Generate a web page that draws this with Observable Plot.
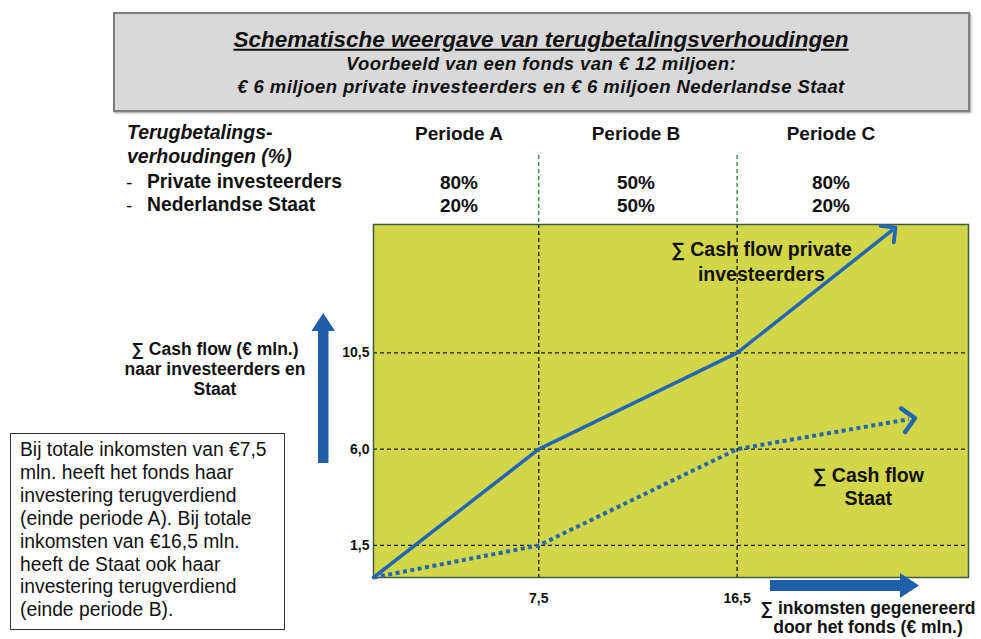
<!DOCTYPE html>
<html><head><meta charset="utf-8">
<script src="https://cdn.jsdelivr.net/npm/d3@7"></script>
<script src="https://cdn.jsdelivr.net/npm/@observablehq/plot@0.6"></script>
<style>
body{margin:0;background:#fff;font-family:"Liberation Sans",Arial,sans-serif;color:#111;}
#page{position:relative;width:981px;height:639px;overflow:hidden;}
#chart{position:absolute;left:0;top:0;}
.t{position:absolute;white-space:nowrap;line-height:1;}
.c{transform:translate(-50%,-50%);}
.l{transform:translate(0,-50%);}
</style>
</head><body>
<div id="page"></div>
<script>
// ---- data ----
const title = "Schematische weergave van terugbetalingsverhoudingen";
const subtitle = ["Voorbeeld van een fonds van € 12 miljoen:", "€ 6 miljoen private investeerders en € 6 miljoen Nederlandse Staat"];
const periods = ["Periode A", "Periode B", "Periode C"];
const sharePrivate = ["80%", "50%", "80%"];
const shareStaat = ["20%", "50%", "20%"];
const rowLabels = ["Private investeerders", "Nederlandse Staat"];
const incomePrivate = [0, 7.5, 16.5, 23.5];
const cashPrivate = [0, 6.0, 10.5, 16.2];
const incomeStaat = [0, 7.5, 16.5, 24.3];
const cashStaat = [0, 1.5, 6.0, 7.4];
const xTicks = [7.5, 16.5];
const yTicks = [1.5, 6.0, 10.5];
const noteLines = ["Bij totale inkomsten van €7,5", "mln. heeft het fonds haar", "investering terugverdiend", "(einde periode A). Bij totale", "inkomsten van €16,5 mln.", "heeft de Staat ook haar", "investering terugverdiend", "(einde periode B)."];
const yLabel = ["∑ Cash flow (€ mln.)", "naar investeerders en", "Staat"];
const xLabel = ["∑ inkomsten gegenereerd", "door het fonds (€ mln.)"];

const privateData = incomePrivate.map((x, i) => ({x, y: cashPrivate[i]}));
const staatData = incomeStaat.map((x, i) => ({x, y: cashStaat[i]}));
const fmt = d => d.toFixed(1).replace(".", ",");
const FONT = "Liberation Sans, Arial, sans-serif";
const BLUE = "#2267b4";

const chart = Plot.plot({
  width: 981, height: 639,
  marginLeft: 373, marginRight: 13, marginTop: 224, marginBottom: 62,
  x: {domain: [0, 27]},
  y: {domain: [0, 16.5]},
  style: {fontFamily: FONT, fontSize: "14px", fontWeight: "bold", color: "#111", background: "transparent", overflow: "visible"},
  marks: [
    Plot.frame({fill: "#d4d64a", stroke: "none"}),
    Plot.ruleY(yTicks, {stroke: "#1a1a1a", strokeWidth: 1.3, strokeDasharray: "4,3"}),
    Plot.ruleX(xTicks, {stroke: "#1a1a1a", strokeWidth: 1.3, strokeDasharray: "4,3"}),
    Plot.ruleX(xTicks, {stroke: "#2e7d32", strokeWidth: 1.3, strokeDasharray: "4,3", insetTop: -69, insetBottom: 353}),
    Plot.frame({stroke: "#3f5a3f", strokeWidth: 1.5}),
    Plot.text(["∑ Cash flow private\ninvesteerders"], {x: 17.6, y: 14.8, fontSize: 19.5, lineHeight: 1.25, fill: "#111"}),
    Plot.text(["∑ Cash flow\nStaat"], {x: 22.45, y: 4.28, fontSize: 19.5, lineHeight: 1.2, fill: "#111"}),
    Plot.line(privateData, {x: "x", y: "y", stroke: BLUE, strokeWidth: 3.5, markerEnd: "arrow"}),
    Plot.line(staatData, {x: "x", y: "y", stroke: BLUE, strokeWidth: 4, strokeDasharray: "4,3.5", strokeLinecap: "butt", markerEnd: "arrow"}),
    Plot.axisX({ticks: xTicks, tickSize: 0, tickPadding: 16, tickFormat: fmt, label: null}),
    Plot.axisY({ticks: yTicks, tickSize: 0, tickPadding: 4, tickFormat: fmt, label: null})
  ]
});
chart.id = "chart";
chart.querySelectorAll("marker").forEach(m => {
  m.setAttribute("markerWidth", 10);
  m.setAttribute("markerHeight", 10);
  m.setAttribute("stroke-dasharray", "none");
  m.setAttribute("stroke-width", 1.1);
});

const page = document.getElementById("page");

// title box
const box = document.createElement("div");
box.style.cssText = "position:absolute;left:113px;top:12px;width:853px;height:96px;background:#d9d9d9;border:2px solid #7f7f7f;box-shadow:1px 1px 2px #999;";
page.appendChild(box);
page.appendChild(chart);

function addText(txt, x, y, css, cls = "c") {
  const d = document.createElement("div");
  d.className = "t " + cls;
  d.style.left = x + "px";
  d.style.top = y + "px";
  d.style.cssText += css;
  d.textContent = txt;
  page.appendChild(d);
  return d;
}
addText(title, 541, 40, "font-weight:bold;font-style:italic;font-size:22.5px;text-decoration:underline;");
addText(subtitle[0], 541, 64, "font-weight:bold;font-style:italic;font-size:18.5px;letter-spacing:0.4px;");
addText(subtitle[1], 541, 87, "font-weight:bold;font-style:italic;font-size:18.5px;letter-spacing:0.4px;");

// table
addText("Terugbetalings-", 127, 133, "font-weight:bold;font-style:italic;font-size:19.5px;", "l");
addText("verhoudingen (%)", 127, 157, "font-weight:bold;font-style:italic;font-size:19.5px;", "l");
const rowY = [182, 205];
rowLabels.forEach((r, i) => {
  addText("-", 126, rowY[i], "font-size:19px;", "l");
  addText(r, 147, rowY[i], "font-weight:bold;font-size:19.3px;", "l");
});
const colX = [459, 636, 831];
periods.forEach((p, i) => {
  addText(p, colX[i], 133, "font-weight:bold;font-size:19px;");
  addText(sharePrivate[i], colX[i], rowY[0], "font-weight:bold;font-size:19px;");
  addText(shareStaat[i], colX[i], rowY[1], "font-weight:bold;font-size:19px;");
});

// y label
yLabel.forEach((s, i) => addText(s, 215, 350 + i * 20, "font-weight:bold;font-size:17.5px;"));
// x label
xLabel.forEach((s, i) => addText(s, 868, 609 + i * 19, "font-weight:bold;font-size:17.5px;"));

// note box
const note = document.createElement("div");
note.style.cssText = "position:absolute;left:10px;top:433px;width:262px;height:182px;border:1.5px solid #333;padding:5px 2px 8px 9px;font-size:19.3px;line-height:22.9px;white-space:nowrap;background:#fff;";
note.innerHTML = noteLines.join("<br>");
page.appendChild(note);

// block arrows
const ns = "http://www.w3.org/2000/svg";
const deco = document.createElementNS(ns, "svg");
deco.setAttribute("width", 981); deco.setAttribute("height", 639);
deco.style.cssText = "position:absolute;left:0;top:0;pointer-events:none;";
const up = document.createElementNS(ns, "polygon");
up.setAttribute("points", "318,463 328.5,463 328.5,331 335,331 323.2,313 311.5,331 318,331");
up.setAttribute("fill", "#1f5fa8");
const right = document.createElementNS(ns, "polygon");
right.setAttribute("points", "770,580 900,580 900,573 919,585.5 900,598 900,591 770,591");
right.setAttribute("fill", "#1f5fa8");
deco.appendChild(up); deco.appendChild(right);
page.appendChild(deco);
</script>
</body></html>
